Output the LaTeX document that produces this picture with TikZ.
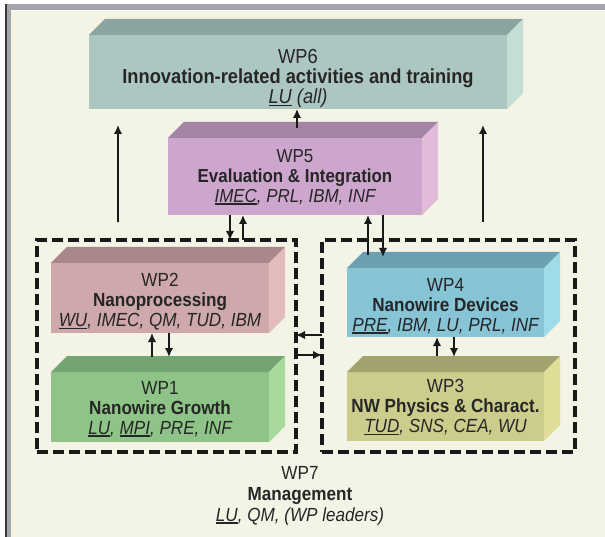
\documentclass[tikz,border=0pt]{standalone}
\usepackage{fontspec}
\setmainfont[FakeStretch=0.9]{Liberation Sans}
\usetikzlibrary{arrows.meta,calc}
\definecolor{bg}{HTML}{F3F3E6}
\definecolor{framegrey}{HTML}{A2A6AA}
\definecolor{framedark}{HTML}{3A3A3A}
\definecolor{txt}{HTML}{262626}
\definecolor{wpsixf}{HTML}{ACC6C2}\definecolor{wpsixt}{HTML}{8CA4A0}\definecolor{wpsixr}{HTML}{C4DED6}
\definecolor{wpfivef}{HTML}{CCA6CC}\definecolor{wpfivet}{HTML}{A484A4}\definecolor{wpfiver}{HTML}{E2BADA}
\definecolor{wptwof}{HTML}{CEA8AA}\definecolor{wptwot}{HTML}{A8888A}\definecolor{wptwor}{HTML}{E2BCBC}
\definecolor{wponef}{HTML}{8EC488}\definecolor{wponet}{HTML}{74A470}\definecolor{wponer}{HTML}{A8DA9C}
\definecolor{wpfourf}{HTML}{86C4D6}\definecolor{wpfourt}{HTML}{6CA0B0}\definecolor{wpfourr}{HTML}{A0DCE8}
\definecolor{wpthreef}{HTML}{CCCC8C}\definecolor{wpthreet}{HTML}{A2A26E}\definecolor{wpthreer}{HTML}{DEDE96}
\newcommand\ulx[1]{\setbox0=\hbox{#1}\rlap{\rule[-2.6pt]{\wd0}{1.8pt}}\box0\relax}
\newcommand\wpsides[3]{%
  \fill[#2] (#1.north west) -- ++(16,-16) -- ($(#1.north east)+(16,-16)$) -- (#1.north east) -- cycle;
  \fill[#3] (#1.north east) -- ++(16,-16) -- ($(#1.south east)+(16,-16)$) -- (#1.south east) -- cycle;}
\tikzset{
  front/.style={inner sep=0pt, outer sep=0pt, draw=none, anchor=north west},
  wptxt/.style={align=center, inner sep=0pt, outer sep=0pt, anchor=north, text=txt,
    font=\fontsize{19}{20}\selectfont},
  arr/.style={line width=2.9pt, draw=black!90, -{Latex[length=9pt,width=8.5pt]}},
  dbox/.style={draw=black!90, line width=3.2pt, dash pattern=on 11pt off 5pt, inner sep=0pt, outer sep=0pt, anchor=north west}
}
\begin{document}
\lineskiplimit=-30pt
\begin{tikzpicture}[x=1pt,y=-1pt]
\useasboundingbox (0,0) rectangle (605,537);
\fill[white] (0,0) rectangle (605,537);
\fill[bg] (11,11) rectangle (605,537);
\fill[framegrey] (5,4) rectangle (605,10);
\fill[framegrey] (7,4) rectangle (11,537);
\fill[framedark] (5,4) rectangle (7,537);

% dashed group boxes
\node[dbox, minimum width=259pt, minimum height=212pt] (dl) at (37,240) {};
\node[dbox, minimum width=253pt, minimum height=212pt] (dr) at (322,240) {};

% work package boxes (front faces)
\node[front, fill=wpsixf, minimum width=418pt, minimum height=74pt] (wp6) at (89,35) {};
\wpsides{wp6}{wpsixt}{wpsixr}
\node[front, fill=wpfivef, minimum width=254pt, minimum height=77pt] (wp5) at (168,138) {};
\wpsides{wp5}{wpfivet}{wpfiver}
\node[front, fill=wptwof, minimum width=218pt, minimum height=70pt] (wp2) at (51,263) {};
\wpsides{wp2}{wptwot}{wptwor}
\node[front, fill=wponef, minimum width=218pt, minimum height=70pt] (wp1) at (51,372) {};
\wpsides{wp1}{wponet}{wponer}
\node[front, fill=wpfourf, minimum width=197pt, minimum height=69pt] (wp4) at (347,268) {};
\wpsides{wp4}{wpfourt}{wpfourr}
\node[front, fill=wpthreef, minimum width=197pt, minimum height=69pt] (wp3) at (347,372) {};
\wpsides{wp3}{wpthreet}{wpthreer}

% texts
\node[wptxt, font=\fontsize{20.3}{20}\selectfont] (t6) at (298,49.6)
  {WP6\\\textbf{Innovation-related activities and training}\\{\itshape\ulx{LU} (all)}};
\node[wptxt, font=\fontsize{18.8}{20}\selectfont] (t5) at (295,149.7)
  {WP5\\\textbf{Evaluation \& Integration}\\{\itshape\ulx{IMEC}, PRL, IBM, INF}};
\node[wptxt] (t2) at (160,273.5)
  {WP2\\\textbf{Nanoprocessing}\\{\itshape\ulx{WU}, IMEC, QM, TUD, IBM}};
\node[wptxt] (t1) at (160,381.5)
  {WP1\\\textbf{Nanowire Growth}\\{\itshape\ulx{LU}, \ulx{MPI}, PRE, INF}};
\node[wptxt] (t4) at (445.5,278.5)
  {WP4\\\textbf{Nanowire Devices}\\{\itshape\ulx{PRE}, IBM, LU, PRL, INF}};
\node[wptxt] (t3) at (445.5,379.5)
  {WP3\\\textbf{NW Physics \& Charact.}\\{\itshape\ulx{TUD}, SNS, CEA, WU}};
\node[wptxt, font=\fontsize{19}{21}\selectfont] (t7) at (300,466.5)
  {WP7\\\textbf{Management}\\{\itshape\ulx{LU}, QM, (WP leaders)}};

% coordinates for connector positions
\coordinate (xa) at (230,0); \coordinate (xb) at (243,0);
\coordinate (xc) at (368,0); \coordinate (xd) at (383,0);
\coordinate (xe) at (152,0); \coordinate (xf) at (169,0);
\coordinate (xg) at (437,0); \coordinate (xh) at (454,0);
\coordinate (xm) at (297,0);
\coordinate (ya) at (0,335); \coordinate (yb) at (0,355);
\coordinate (lsA) at (118,222); \coordinate (lsB) at (118,125);
\coordinate (rsA) at (483,222); \coordinate (rsB) at (483,125);

% connectors
\draw[arr] (lsA) -- (lsB);
\draw[arr] (rsA) -- (rsB);
\draw[arr] ($(wp5.north -| xm)+(0,-10)$) -- (wp6.south -| xm);
\draw[arr] (wp5.south -| xa) -- (dl.north -| xa);
\draw[arr] (dl.north -| xb) -- (wp5.south -| xb);
\draw[arr] ($(wp4.north -| xc)+(0,-13)$) -- (wp5.south -| xc);
\draw[arr] (wp5.south -| xd) -- ($(wp4.north -| xd)+(0,-11)$);
\draw[arr] ($(wp1.north -| xe)+(0,-15)$) -- (wp2.south -| xe);
\draw[arr] (wp2.south -| xf) -- ($(wp1.north -| xf)+(0,-15)$);
\draw[arr] ($(wp3.north -| xg)+(0,-16)$) -- (wp4.south -| xg);
\draw[arr] (wp4.south -| xh) -- ($(wp3.north -| xh)+(0,-15)$);
\draw[arr] (dr.west |- ya) -- (dl.east |- ya);
\draw[arr] (dl.east |- yb) -- (dr.west |- yb);
\end{tikzpicture}
\end{document}
